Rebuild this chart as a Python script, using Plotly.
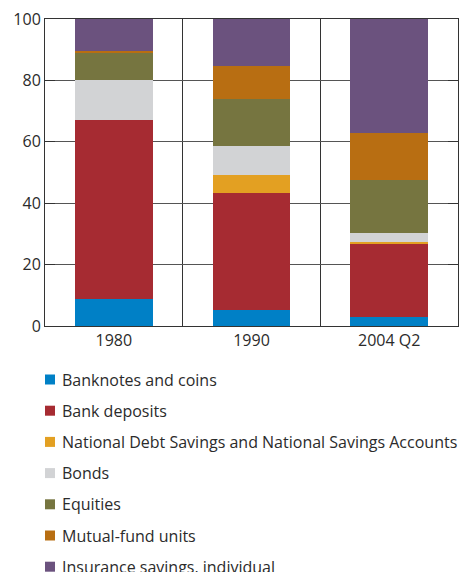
import plotly.graph_objects as go

categories = ["1980", "1990", "2004 Q2"]
series_names = [
    "Banknotes and coins",
    "Bank deposits",
    "National Debt Savings and National Savings Accounts",
    "Bonds",
    "Equities",
    "Mutual-fund units",
    "Insurance savings, individual",
]
banknotes = [8.8, 5.3, 3.0]
bank_deposits = [58.3, 38.0, 23.7]
national_debt = [0.0, 5.9, 0.7]
bonds = [13.0, 9.4, 3.0]
equities = [9.1, 15.3, 17.2]
mutual_funds = [0.4, 10.9, 15.4]
insurance = [10.4, 15.2, 37.0]
y_ticks = [0, 20, 40, 60, 80, 100]

series_values = [banknotes, bank_deposits, national_debt, bonds, equities, mutual_funds, insurance]
colors = ["#0080C6", "#A62B32", "#E3A022", "#D2D3D5", "#767540", "#B86E12", "#6B527E"]

fig = go.Figure()
for name, vals, col in zip(series_names, series_values, colors):
    fig.add_trace(go.Bar(x=categories, y=vals, name=name, marker=dict(color=col, line=dict(width=0)),
                         showlegend=False))

FONT = "Open Sans"
TXT = "#2b2b2b"
fig.update_layout(
    barmode="stack",
    bargap=0.434,
    width=462, height=572,
    margin=dict(l=45, r=4, t=19, b=246),
    paper_bgcolor="white", plot_bgcolor="white",
    font=dict(family=FONT, size=16, color=TXT),
    xaxis=dict(type="category", tickson="boundaries", showgrid=True, gridcolor="#333333", gridwidth=1,
               showline=True, linecolor="#333333", linewidth=1, mirror=True, ticks="",
               tickfont=dict(size=16, color=TXT)),
    yaxis=dict(range=[0, 100], tickvals=y_ticks, showgrid=True, gridcolor="#555555", gridwidth=1,
               showline=True, linecolor="#333333", linewidth=1, mirror="ticks", ticks="inside",
               ticklen=10, tickcolor="#333333", zeroline=False,
               tickfont=dict(size=16, color=TXT)),
)

# manual legend below the plot
plot_top, plot_bottom, plot_left, plot_w = 19, 326, 45, 413
plot_h = plot_bottom - plot_top
for i, (name, col) in enumerate(zip(series_names, colors)):
    py = 379.5 + 31.2 * i
    yc = (plot_bottom - py) / plot_h
    half = 5 / plot_h
    x0 = (45 - plot_left) / plot_w
    x1 = (55 - plot_left) / plot_w
    fig.add_shape(type="rect", xref="paper", yref="paper", x0=x0, x1=x1, y0=yc - half, y1=yc + half,
                  fillcolor=col, line=dict(width=0))
    fig.add_annotation(xref="paper", yref="paper", x=(60 - plot_left) / plot_w, y=yc, text=name,
                       showarrow=False, xanchor="left", yanchor="middle",
                       font=dict(family=FONT, size=16, color=TXT))

fig.write_html("out.html")
